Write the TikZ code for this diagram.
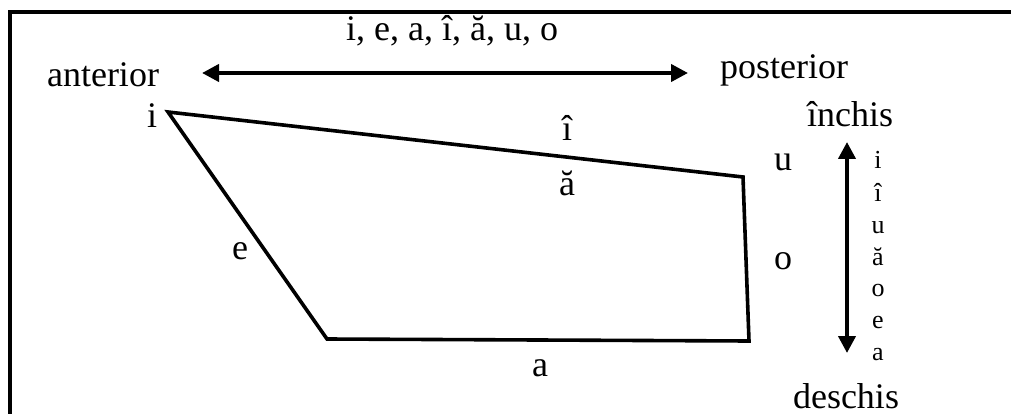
\documentclass[tikz,border=0pt]{standalone}
\usepackage{fontspec}
\setmainfont{Liberation Serif}
\usetikzlibrary{arrows.meta}
\begin{document}
\begin{tikzpicture}[x=1pt,y=-1pt,
  lbl/.style={inner sep=0pt,anchor=base,font=\fontsize{36}{40}\selectfont},
  small/.style={inner sep=0pt,anchor=base,font=\fontsize{26}{30}\selectfont},
  thick line/.style={line width=4pt},
  poly/.style={line width=3.6pt,line join=miter},
  dbl/.style={line width=4pt,{Triangle[length=17pt,width=17pt]}-{Triangle[length=17pt,width=17pt]}}]
\useasboundingbox (0,0) rectangle (1011,414);
\fill[white] (0,0) rectangle (1011,414);
% frame
\coordinate (fbl) at (10,416);
\coordinate (ftl) at (10,12);
\coordinate (ftr) at (1013,12);
\draw[thick line] (fbl) -- (ftl) -- (ftr);
% top labels
\node[lbl] (top) at (452,41) {i, e, a, î, ă, u, o};
\node[lbl] (ant) at (103,87) {anterior};
\node[lbl] (post) at (784,79) {posterior};
\coordinate (hl) at (202,73);
\coordinate (hr) at (688,73);
\draw[dbl] (hl) -- (hr);
% polygon
\coordinate (vA) at (168,112);
\coordinate (vB) at (743,177);
\coordinate (vC) at (749,341);
\coordinate (vD) at (327,339);
\draw[poly] (vA) -- (vB) -- (vC) -- (vD) -- cycle;
% vowel labels
\node[lbl] (li) at (152,128) {i};
\node[lbl] (lhi) at (567,141) {î};
\node[lbl] (lab) at (567,196) {ă};
\node[lbl] (le) at (240,259) {e};
\node[lbl] (la) at (540,376) {a};
\node[lbl] (lu) at (783,171) {u};
\node[lbl] (lo) at (783,269) {o};
% right scale
\node[lbl] (inc) at (850,127) {închis};
\node[lbl] (des) at (846,408) {deschis};
\coordinate (vt) at (847,142);
\coordinate (vb) at (847,353);
\draw[dbl] (vt) -- (vb);
\node[small] (s1) at (878,169) {i};
\node[small] (s2) at (878,201) {î};
\node[small] (s3) at (878,233) {u};
\node[small] (s4) at (878,265) {ă};
\node[small] (s5) at (878,296) {o};
\node[small] (s6) at (878,328) {e};
\node[small] (s7) at (878,360) {a};
\end{tikzpicture}
\end{document}
